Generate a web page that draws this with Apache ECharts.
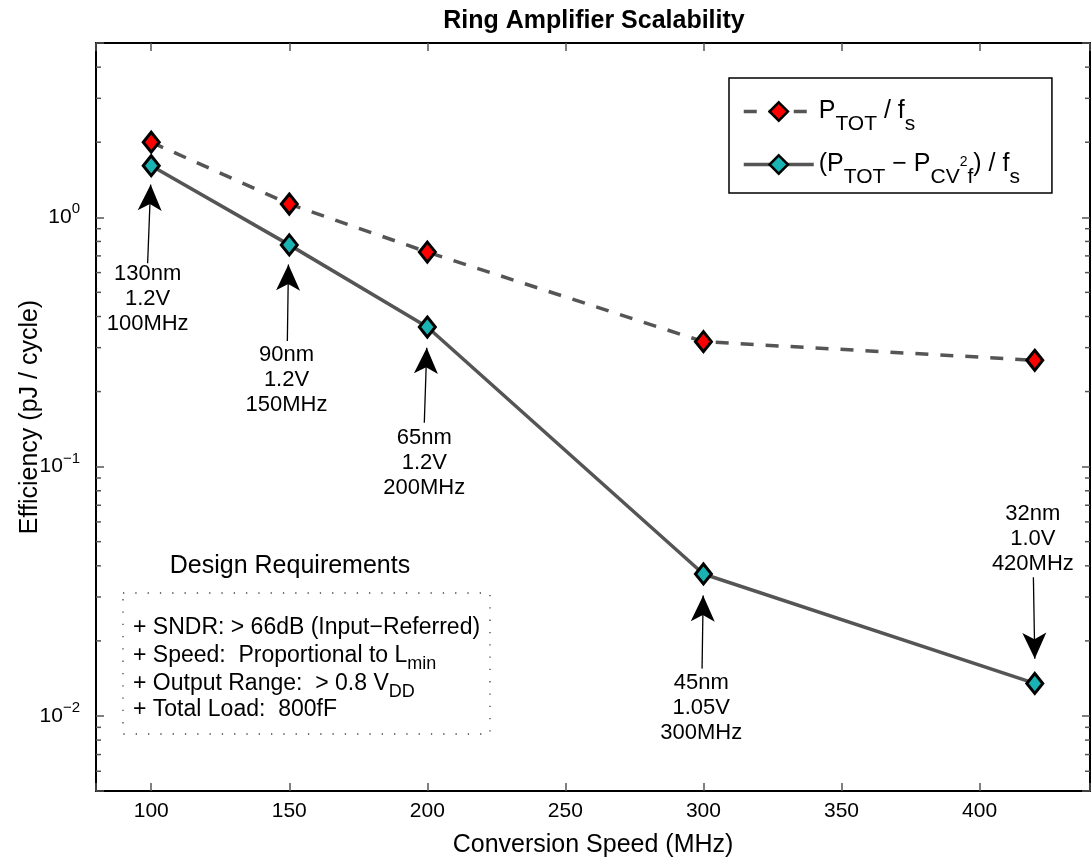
<!DOCTYPE html>
<html>
<head>
<meta charset="utf-8">
<title>Ring Amplifier Scalability</title>
<script src="https://cdn.jsdelivr.net/npm/echarts@6/dist/echarts.min.js"></script>
<style>
html, body { margin: 0; padding: 0; background: #fff; }
#chart { width: 1092px; height: 862px; }
</style>
</head>
<body>
<div id="chart"></div>
<script>
// conversion speed (MHz) of each process node
const speeds = [100, 150, 200, 300, 420];
// energy per conversion cycle (pJ / cycle)
const totalEnergy = [2.0, 1.13, 0.725, 0.317, 0.267];
const netEnergy = [1.61, 0.775, 0.363, 0.0371, 0.0135];

const xMin = 80, xMax = 440;
const yMin = 0.005, yMax = 5;
const yDecades = [0.01, 0.1, 1];
const yMinorTicks = [0.006, 0.007, 0.008, 0.009,
  0.02, 0.03, 0.04, 0.05, 0.06, 0.07, 0.08, 0.09,
  0.2, 0.3, 0.4, 0.5, 0.6, 0.7, 0.8, 0.9,
  2, 3, 4];

// process node notes (text centre) and their arrows (tail -> tip)
const noteText = [
  '130nm\n1.2V\n100MHz',
  '90nm\n1.2V\n150MHz',
  '65nm\n1.2V\n200MHz',
  '45nm\n1.05V\n300MHz',
  '32nm\n1.0V\n420MHz'
];
const noteAt = [[98.7, 0.47], [149.0, 0.223], [198.9, 0.1036], [299.2, 0.01074], [419.3, 0.0514]];
const arrowFrom = [[98.7, 0.654], [149.3, 0.319], [198.9, 0.150], [299.5, 0.01548], [419.5, 0.0360]];
const arrowTo = [[99.8, 1.352], [149.7, 0.6467], [199.8, 0.2998], [299.9, 0.03041], [420.0, 0.01697]];

const FONT = '"Liberation Sans", Arial, Helvetica, sans-serif';
const LINE_GREY = '#555555';

const chart = echarts.init(document.getElementById('chart'));

const legendNames = {
  ptot: '{n|P}{sub|TOT}{n| / f}{sub|s}',
  pnet: '{n|(P}{sub|TOT}{n| \u2212 P}{sub|CV}{sup|2}{sub|f}{n|) / f}{sub|s}'
};

const isDecade = v => {
  const e = Math.log10(v);
  return Math.abs(e - Math.round(e)) < 1e-6 && yDecades.some(d => Math.abs(Math.log10(d) - e) < 1e-6);
};

const boxAxis = {
  axisLine: { onZero: false, lineStyle: { color: '#000', width: 2 } },
  axisTick: { inside: true, length: 8, lineStyle: { color: '#555', width: 1.5 } },
  splitLine: { show: false }
};

const subRich = {
  n: { fontSize: 23, fontFamily: FONT, color: '#000' },
  s: { fontSize: 18, fontFamily: FONT, color: '#000', padding: [16, 0, 0, 0] }
};

chart.setOption({
  animation: false,
  backgroundColor: '#fff',
  textStyle: { fontFamily: FONT },
  title: {
    text: 'Ring Amplifier Scalability',
    left: 589,
    top: 4,
    textAlign: 'center',
    textStyle: { fontFamily: FONT, fontSize: 25, fontWeight: 'bold', color: '#000' }
  },
  grid: { left: 96, right: 2, top: 43, bottom: 71, outerBoundsMode: 'none', containLabel: false },
  legend: {
    data: ['ptot', 'pnet'],
    orient: 'vertical',
    left: 729,
    top: 78,
    padding: [21, 32, 5, 13],
    itemGap: 17,
    itemWidth: 70,
    itemHeight: 23,
    backgroundColor: '#fff',
    borderColor: '#000',
    borderWidth: 1.5,
    borderRadius: 0,
    lineStyle: { width: 3.5 },
    itemStyle: { borderWidth: 2.5 },
    formatter: name => legendNames[name],
    textStyle: {
      fontFamily: FONT,
      rich: {
        n: { fontSize: 25, color: '#000', fontFamily: FONT },
        sub: { fontSize: 21, color: '#000', fontFamily: FONT, padding: [26, 0, 0, 0] },
        sup: { fontSize: 14, color: '#000', fontFamily: FONT, padding: [0, 0, 4, 0] }
      }
    }
  },
  xAxis: [
    Object.assign({
      type: 'value', min: xMin, max: xMax, splitNumber: 7,
      name: 'Conversion Speed (MHz)', nameLocation: 'middle', nameGap: 42,
      nameTextStyle: { fontSize: 25, color: '#000', fontFamily: FONT },
      axisLabel: {
        margin: 10, fontSize: 21, color: '#000', fontFamily: FONT,
        formatter: v => (v >= 100 && v <= 400 && v % 50 === 0) ? String(v) : ''
      }
    }, boxAxis),
    Object.assign({
      type: 'value', min: xMin, max: xMax, splitNumber: 7, position: 'top',
      axisLabel: { show: false }
    }, boxAxis)
  ],
  yAxis: [
    Object.assign({
      type: 'log', logBase: 10, min: yMin, max: yMax,
      name: 'Efficiency (pJ / cycle)', nameLocation: 'middle', nameGap: 53,
      nameMoveOverlap: false,
      nameTextStyle: { fontSize: 25, color: '#000', fontFamily: FONT },
      axisLabel: {
        margin: 16, color: '#000', fontFamily: FONT,
        formatter: v => {
          if (!isDecade(v)) return '';
          const e = Math.round(Math.log10(v));
          return '{b|10}{e|' + (e < 0 ? '\u2212' + (-e) : e) + '}';
        },
        rich: {
          b: { fontSize: 21, color: '#000', fontFamily: FONT },
          e: { fontSize: 15, color: '#000', fontFamily: FONT, padding: [0, 0, 16, 0] }
        }
      }
    }, boxAxis),
    Object.assign({
      type: 'log', logBase: 10, min: yMin, max: yMax, position: 'right',
      axisLabel: { show: false }
    }, boxAxis)
  ],
  series: [
    {
      name: 'ptot',
      type: 'line',
      data: speeds.map((s, i) => [s, totalEnergy[i]]),
      symbol: 'diamond',
      symbolSize: [16, 20],
      itemStyle: { color: '#ff0000', borderColor: '#000', borderWidth: 3 },
      lineStyle: { color: LINE_GREY, width: 3.5, type: [13, 12] },
      z: 3
    },
    {
      name: 'pnet',
      type: 'line',
      data: speeds.map((s, i) => [s, netEnergy[i]]),
      symbol: 'diamond',
      symbolSize: [16, 20],
      itemStyle: { color: '#1ab3b3', borderColor: '#000', borderWidth: 3 },
      lineStyle: { color: LINE_GREY, width: 3.5, type: 'solid' },
      z: 3
    },
    {
      name: 'minorTicks',
      type: 'custom',
      silent: true,
      z: 4,
      data: yMinorTicks.map(v => [xMin, v]),
      renderItem: (params, api) => {
        const cs = params.coordSys;
        const y = api.coord([api.value(0), api.value(1)])[1];
        const st = { stroke: '#555', lineWidth: 1.5 };
        return {
          type: 'group',
          children: [
            { type: 'line', shape: { x1: cs.x, y1: y, x2: cs.x + 5, y2: y }, style: st },
            { type: 'line', shape: { x1: cs.x + cs.width - 5, y1: y, x2: cs.x + cs.width, y2: y }, style: st }
          ]
        };
      }
    },
    {
      name: 'notes',
      type: 'scatter',
      silent: true,
      symbolSize: 1,
      itemStyle: { color: 'rgba(0,0,0,0)', opacity: 1 },
      data: noteAt,
      label: {
        show: true,
        position: 'inside',
        formatter: p => noteText[p.dataIndex],
        fontSize: 22,
        lineHeight: 25,
        color: '#000',
        opacity: 1,
        fontFamily: FONT,
        align: 'center'
      },
      markLine: {
        silent: true,
        animation: false,
        symbol: ['none', 'arrow'],
        symbolSize: [18, 26],
        label: { show: false },
        emphasis: { disabled: true },
        lineStyle: { color: '#000', width: 1.3, type: 'solid', opacity: 1 },
        itemStyle: { color: '#000' },
        data: arrowFrom.map((p, i) => [{ coord: p }, { coord: arrowTo[i] }])
      },
      z: 5
    }
  ],
  graphic: [
    {
      type: 'text', x: 290, y: 566,
      style: { text: 'Design Requirements', align: 'center', verticalAlign: 'middle', font: '25px ' + FONT, fill: '#000' }
    },
    {
      type: 'rect',
      shape: { x: 123, y: 593, width: 367, height: 141 },
      style: { fill: 'none', stroke: '#444', lineWidth: 1.3, lineDash: [1.3, 11] }
    },
    {
      type: 'text', x: 133, y: 628,
      style: { text: '+ SNDR: > 66dB (Input\u2212Referred)', verticalAlign: 'middle', font: '23px ' + FONT, fill: '#000' }
    },
    {
      type: 'text', x: 133, y: 656,
      style: { text: '{n|+ Speed:  Proportional to L}{s|min}', verticalAlign: 'middle', rich: subRich }
    },
    {
      type: 'text', x: 133, y: 684,
      style: { text: '{n|+ Output Range:  > 0.8 V}{s|DD}', verticalAlign: 'middle', rich: subRich }
    },
    {
      type: 'text', x: 133, y: 710,
      style: { text: '+ Total Load:  800fF', verticalAlign: 'middle', font: '23px ' + FONT, fill: '#000' }
    }
  ]
});
</script>
</body>
</html>
